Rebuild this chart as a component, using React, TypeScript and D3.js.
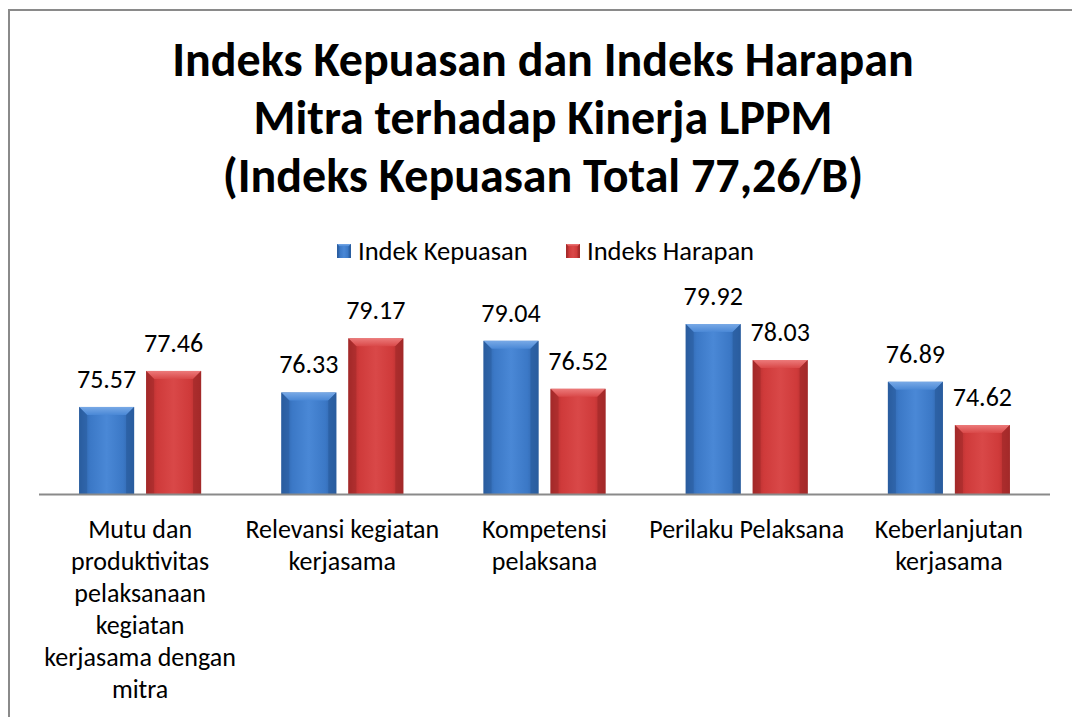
import React from "react";
import * as d3 from "d3";

const titleLines = [
  "Indeks Kepuasan dan Indeks Harapan",
  "Mitra terhadap Kinerja LPPM",
  "(Indeks Kepuasan Total 77,26/B)",
];
const categories = [
  ["Mutu dan", "produktivitas", "pelaksanaan", "kegiatan", "kerjasama dengan", "mitra"],
  ["Relevansi kegiatan", "kerjasama"],
  ["Kompetensi", "pelaksana"],
  ["Perilaku Pelaksana"],
  ["Keberlanjutan", "kerjasama"],
];
const seriesNames = ["Indek Kepuasan", "Indeks Harapan"];
const kepuasan = [75.57, 76.33, 79.04, 79.92, 76.89];
const harapan = [77.46, 79.17, 76.52, 78.03, 74.62];
const yDomain = [71, 81];

const FONT = "Carlito, Lato, 'Liberation Sans', sans-serif";

const palettes = [
  { id: "b", dark: "#2a5c9e", mid: "#3b78c6", light: "#4a88d6", top: "#78a9e6", bottom: "#2f63a6" },
  { id: "r", dark: "#a32929", mid: "#cf3a3a", light: "#d94848", top: "#ec7a7a", bottom: "#ab2d2d" },
];

function Bar({ x, y, w, h, p }: any) {
  const b = Math.min(8, w / 6, h / 3);
  return (
    <g>
      <rect x={x} y={y} width={w} height={h} fill={`url(#body-${p.id})`} />
      <polygon
        points={`${x},${y} ${x + w},${y} ${x + w - b},${y + b} ${x + b},${y + b}`}
        fill={`url(#top-${p.id})`}
      />
      <polygon
        points={`${x},${y} ${x + b},${y + b} ${x + b},${y + h} ${x},${y + h}`}
        fill={p.dark}
        opacity={0.55}
      />
      <polygon
        points={`${x + w},${y} ${x + w - b},${y + b} ${x + w - b},${y + h} ${x + w},${y + h}`}
        fill={p.dark}
        opacity={0.7}
      />
    </g>
  );
}

export default function App() {
  const W = 1072;
  const H = 717;
  const plotLeft = 39;
  const plotRight = 1050;
  const baseY = 494;
  const pxPerUnit = 19.05;
  const y = d3
    .scaleLinear()
    .domain(yDomain)
    .range([baseY, baseY - pxPerUnit * (yDomain[1] - yDomain[0])]);
  const x0 = d3
    .scaleBand<number>()
    .domain(d3.range(categories.length))
    .range([plotLeft, plotRight])
    .paddingInner(0)
    .paddingOuter(0);
  const bw = x0.bandwidth();
  const barW = 55;
  const gap = 12;
  const series = [kepuasan, harapan];

  return (
    <svg
      width={W}
      height={H}
      style={{ position: "absolute", left: 0, top: 0, display: "block" }}
      fontFamily={FONT}
    >
      <defs>
        {palettes.map((p) => (
          <React.Fragment key={p.id}>
            <linearGradient id={`body-${p.id}`} x1="0" x2="1" y1="0" y2="0">
              <stop offset="0" stopColor={p.dark} />
              <stop offset="0.2" stopColor={p.mid} />
              <stop offset="0.5" stopColor={p.light} />
              <stop offset="0.8" stopColor={p.mid} />
              <stop offset="1" stopColor={p.dark} />
            </linearGradient>
            <linearGradient id={`top-${p.id}`} x1="0" x2="0" y1="0" y2="1">
              <stop offset="0" stopColor={p.top} />
              <stop offset="1" stopColor={p.light} />
            </linearGradient>
          </React.Fragment>
        ))}
      </defs>
      <rect x={0} y={0} width={W} height={H} fill="#fff" />
      <rect x={9} y={10} width={1200} height={900} fill="#fff" stroke="#8a8a8a" strokeWidth={2} />

      {titleLines.map((t, i) => (
        <text
          key={i}
          x={543}
          y={76 + i * 58}
          textAnchor="middle"
          fontSize={48}
          fontWeight="bold"
          fill="#000"
        >
          {t}
        </text>
      ))}

      {/* legend */}
      {seriesNames.map((n, i) => {
        const lx = [337, 566][i];
        return (
          <g key={n}>
            <Bar x={lx} y={244} w={14} h={14} p={palettes[i]} />
            <text x={lx + 21} y={260} fontSize={26.5} fill="#000">
              {n}
            </text>
          </g>
        );
      })}

      {/* bars */}
      {categories.map((_, ci) => {
        const gx = x0(ci)! + (bw - (2 * barW + gap)) / 2;
        return (
          <g key={ci}>
            {series.map((s, si) => {
              const bx = gx + si * (barW + gap);
              const by = y(s[ci]);
              return (
                <g key={si}>
                  <Bar x={bx} y={by} w={barW} h={baseY - by} p={palettes[si]} />
                  <text
                    x={bx + barW / 2}
                    y={by - 19}
                    textAnchor="middle"
                    fontSize={26}
                    fill="#000"
                  >
                    {s[ci].toFixed(2)}
                  </text>
                </g>
              );
            })}
          </g>
        );
      })}

      <line x1={plotLeft} x2={plotRight} y1={baseY + 0.5} y2={baseY + 0.5} stroke="#8a8a8a" strokeWidth={2} />

      {categories.map((lines, ci) => (
        <text
          key={ci}
          x={x0(ci)! + bw / 2}
          textAnchor="middle"
          fontSize={26}
          fill="#000"
        >
          {lines.map((l, li) => (
            <tspan key={li} x={x0(ci)! + bw / 2} y={538 + li * 32}>
              {l}
            </tspan>
          ))}
        </text>
      ))}
    </svg>
  );
}
